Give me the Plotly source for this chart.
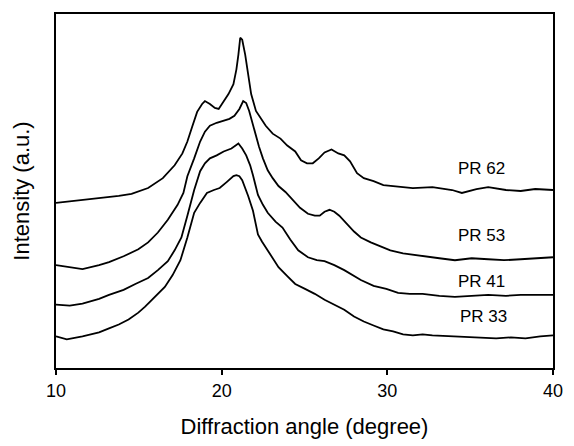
import plotly.graph_objects as go

# Diffraction angle (degree) and intensity (a.u.) for each sample
pr62_x = [10.00, 11.12, 12.60, 13.79, 14.56, 15.56, 16.45, 17.16, 17.63, 17.93, 18.22, 18.52, 18.82, 18.99,
          19.29, 19.59, 19.82, 20.12, 20.41, 20.71, 20.89, 21.01, 21.12, 21.24, 21.42, 21.60, 21.78, 22.07,
          22.37, 22.66, 23.08, 23.55, 23.96, 24.44, 24.79, 25.15, 25.50, 25.86, 26.21, 26.63, 27.04, 27.40,
          27.75, 28.17, 28.58, 29.17, 29.76, 30.35, 31.54, 32.72, 33.91, 34.50, 35.38, 36.09, 37.16, 38.05,
          38.93, 40.00]
pr62_y = [167, 169, 172, 174, 176, 182, 192, 205, 217, 229, 244, 259, 267, 270,
          267, 263, 262, 270, 277, 287, 302, 317, 334, 332, 317, 297, 277, 260,
          252, 245, 237, 232, 225, 219, 210, 207, 207, 212, 218, 221, 217, 215,
          209, 197, 192, 189, 185, 184, 182, 183, 180, 177, 181, 183, 180, 179,
          181, 180]

pr53_x = [10.00, 10.83, 11.60, 12.60, 13.20, 14.08, 14.97, 15.56, 16.15, 16.75, 17.34, 17.69, 17.93, 18.34,
          18.70, 18.99, 19.29, 19.70, 20.12, 20.47, 20.77, 21.07, 21.30, 21.48, 21.66, 21.95, 22.25, 22.49,
          22.78, 23.08, 23.43, 23.85, 24.32, 24.73, 25.21, 25.62, 25.92, 26.21, 26.51, 26.80, 27.10, 27.57,
          27.99, 28.40, 29.00, 29.59, 30.18, 30.95, 32.13, 33.14, 34.08, 35.09, 36.09, 37.04, 38.05, 38.93,
          40.00]
pr53_y = [104, 102, 100, 104, 107, 113, 120, 127, 137, 150, 165, 177, 194, 212,
          229, 239, 245, 248, 250, 252, 255, 262, 270, 268, 260, 242, 224, 212,
          200, 192, 184, 178, 169, 162, 156, 154, 154, 158, 160, 158, 154, 145,
          138, 132, 127, 123, 119, 116, 113, 111, 109, 111, 110, 109, 110, 111,
          112]

pr41_x = [10.00, 10.83, 11.60, 12.60, 13.20, 14.08, 14.79, 15.56, 16.15, 16.75, 17.16, 17.57, 17.93, 18.34,
          18.70, 18.99, 19.29, 19.70, 20.12, 20.59, 21.01, 21.24, 21.48, 21.72, 21.89, 22.19, 22.49, 22.78,
          23.25, 23.67, 24.14, 24.62, 25.21, 25.74, 26.21, 26.80, 27.40, 27.87, 28.40, 29.17, 29.94, 30.65,
          31.36, 32.13, 33.14, 34.08, 35.09, 36.09, 37.16, 38.05, 38.93, 40.00]
pr41_y = [64, 63, 65, 70, 74, 79, 85, 91, 99, 108, 119, 132, 154, 180,
          199, 207, 212, 215, 219, 222, 227, 222, 215, 205, 195, 175, 165, 157,
          148, 142, 130, 119, 112, 109, 108, 104, 99, 94, 89, 83, 80, 76,
          75, 75, 73, 72, 73, 74, 73, 74, 74, 74]

pr33_x = [10.00, 10.65, 11.60, 12.60, 13.20, 13.79, 14.38, 14.97, 15.38, 15.98, 16.57, 17.04, 17.51, 17.93,
          18.34, 18.70, 19.11, 19.53, 19.88, 20.30, 20.71, 20.89, 21.07, 21.24, 21.36, 21.60, 21.89, 22.19,
          22.43, 22.66, 23.08, 23.43, 23.96, 24.44, 25.03, 25.62, 26.21, 26.80, 27.40, 27.99, 28.58, 29.17,
          29.76, 30.35, 30.95, 31.54, 32.13, 32.72, 33.91, 34.79, 35.68, 36.57, 37.46, 38.34, 39.23, 40.00]
pr33_y = [32, 29, 32, 36, 40, 44, 49, 56, 62, 72, 82, 94, 109, 132,
          157, 167, 177, 180, 182, 188, 194, 195, 194, 190, 185, 174, 159, 135,
          128, 122, 111, 102, 93, 85, 80, 75, 69, 64, 59, 52, 47, 43,
          39, 37, 34, 33, 34, 33, 32, 31, 31, 30, 31, 30, 32, 33]

labels = ["PR 62", "PR 53", "PR 41", "PR 33"]
label_x = [35.68, 35.68, 35.68, 35.80]
label_y = [202, 134, 87, 52]

x_ticks = [10, 20, 30, 40]

FONT = "Liberation Sans, Arial, sans-serif"

fig = go.Figure()
for xs, ys, name in [(pr62_x, pr62_y, labels[0]), (pr53_x, pr53_y, labels[1]),
                     (pr41_x, pr41_y, labels[2]), (pr33_x, pr33_y, labels[3])]:
    fig.add_trace(go.Scatter(x=xs, y=ys, mode="lines", name=name,
                             line=dict(color="black", width=1.8), showlegend=False))

for t, lx, ly in zip(labels, label_x, label_y):
    fig.add_annotation(x=lx, y=ly, text=t, showarrow=False,
                       font=dict(family=FONT, size=17, color="black"))

fig.update_layout(
    width=574, height=446,
    margin=dict(l=56, r=11, t=14, b=74),
    paper_bgcolor="white", plot_bgcolor="white",
    font=dict(family=FONT, color="black"),
)
fig.update_xaxes(
    range=[10, 40], tickvals=x_ticks, ticktext=[str(v) for v in x_ticks],
    ticks="outside", ticklen=5, tickwidth=1.5, tickcolor="black",
    showline=True, linecolor="black", linewidth=2, mirror=True,
    showgrid=False, zeroline=False,
    tickfont=dict(family=FONT, size=18, color="black"),
    title=dict(text="Diffraction angle (degree)", font=dict(family=FONT, size=22, color="black"), standoff=19),
)
fig.update_yaxes(
    range=[0, 358], showticklabels=False, ticks="",
    showline=True, linecolor="black", linewidth=2, mirror=True,
    showgrid=False, zeroline=False,
    title=dict(text="Intensity (a.u.)", font=dict(family=FONT, size=22, color="black"), standoff=18),
)

fig.write_html("out.html")
